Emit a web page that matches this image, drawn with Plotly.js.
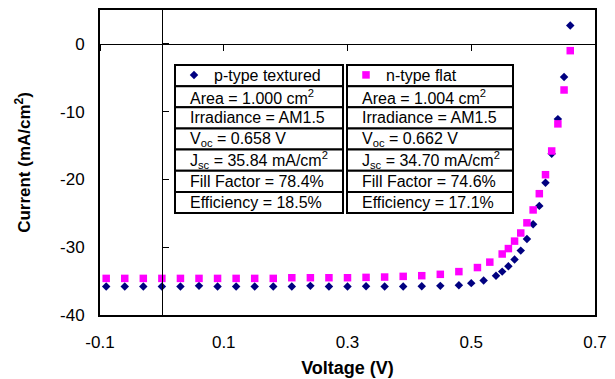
<!DOCTYPE html>
<html>
<head>
<meta charset="utf-8">
<script src="https://cdn.plot.ly/plotly-3.0.1.min.js"></script>
<style>html,body{margin:0;padding:0;background:#fff;}#chart{width:615px;height:379px;}</style>
</head>
<body>
<div id="chart"></div>
<script>
// Voltage (V) and current density (mA/cm^2)
const pTypeVoltage = [-0.09,-0.06,-0.03,0,0.03,0.06,0.09,0.12,0.15,0.18,0.21,0.24,0.27,0.30,0.33,0.36,0.39,0.42,0.45,
  0.48,0.50,0.52,0.54,0.55,0.56,0.57,0.58,0.59,0.60,0.61,0.62,0.63,0.64,0.65,0.66];
const pTypeCurrent = [-35.8,-35.8,-35.8,-35.8,-35.8,-35.7,-35.8,-35.8,-35.8,-35.8,-35.8,-35.7,-35.8,-35.8,-35.75,-35.8,-35.8,-35.75,-35.7,
  -35.6,-35.3,-34.9,-34.2,-33.6,-32.8,-31.8,-30.5,-28.8,-26.6,-23.9,-20.5,-16.2,-11.1,-4.9,2.7];

const nTypeVoltage = [-0.09,-0.06,-0.03,0,0.03,0.06,0.09,0.12,0.15,0.18,0.21,0.24,0.27,0.30,0.33,0.36,0.39,0.42,0.45,
  0.48,0.51,0.53,0.55,0.56,0.57,0.58,0.59,0.60,0.61,0.62,0.63,0.64,0.65,0.66];
const nTypeCurrent = [-34.6,-34.6,-34.6,-34.6,-34.6,-34.6,-34.6,-34.6,-34.6,-34.6,-34.5,-34.5,-34.5,-34.5,-34.45,-34.4,-34.3,-34.2,-34.0,
  -33.6,-33.0,-32.2,-31.0,-30.2,-29.1,-27.9,-26.4,-24.5,-22.1,-19.3,-15.8,-11.8,-6.8,-1.0];

const seriesNames = ["p-type textured", "n-type flat"];
const pTypeTable = ["Area = 1.000 cm<sup>2</sup>", "Irradiance = AM1.5", "V<sub>oc</sub> = 0.658 V",
  "J<sub>sc</sub> = 35.84 mA/cm<sup>2</sup>", "Fill Factor = 78.4%", "Efficiency = 18.5%"];
const nTypeTable = ["Area = 1.004 cm<sup>2</sup>", "Irradiance = AM1.5", "V<sub>oc</sub> = 0.662 V",
  "J<sub>sc</sub> = 34.70 mA/cm<sup>2</sup>", "Fill Factor = 74.6%", "Efficiency = 17.1%"];

const xTickVals = [-0.1, 0.1, 0.3, 0.5, 0.7];
const xTickText = ["-0.1", "0.1", "0.3", "0.5", "0.7"];
const yTickVals = [-40, -30, -20, -10, 0];
const yTickText = ["-40", "-30", "-20", "-10", "0"];

// ---- layout geometry ----
const W = 615, H = 379;
const M = {l: 100, r: 20, t: 10, b: 64};
const PW = W - M.l - M.r, PH = H - M.t - M.b;
const xRange = [-0.1, 0.7], yRange = [-40, 5];
const px2x = p => (p - M.l) / PW;
const px2y = p => (H - M.b - p) / PH;

const FONT = "Arial, 'Liberation Sans', sans-serif";

const traces = [
  {x: pTypeVoltage, y: pTypeCurrent, name: seriesNames[0], type: "scatter", mode: "markers",
   marker: {symbol: "diamond", size: 6.5, color: "#000080"}},
  {x: nTypeVoltage, y: nTypeCurrent, name: seriesNames[1], type: "scatter", mode: "markers",
   marker: {symbol: "square", size: 7.5, color: "#FF00FF"}},
  // empty trace so the zero-crossing axes get drawn
  {x: [], y: [], xaxis: "x2", yaxis: "y2", type: "scatter", mode: "markers",
   showlegend: false, hoverinfo: "skip"}
];

// table cells
const shapes = [];
const annotations = [];
const cols = [{l: 175, r: 343}, {l: 347, r: 513}];
const rowTop = 65, rowH = 21.15;
for (let c = 0; c < 2; c++) {
  for (let r = 0; r < 7; r++) {
    const y0 = rowTop + r * rowH, y1 = y0 + rowH;
    shapes.push({type: "rect", xref: "paper", yref: "paper",
      x0: px2x(cols[c].l), x1: px2x(cols[c].r), y0: px2y(y1), y1: px2y(y0),
      line: {color: "#000", width: 2}, fillcolor: "#fff", layer: "above"});
    if (r > 0) {
      const txt = (c === 0 ? pTypeTable : nTypeTable)[r - 1];
      annotations.push({xref: "paper", yref: "paper", x: px2x(cols[c].l + 13), y: px2y((y0 + y1) / 2),
        xanchor: "left", yanchor: "middle", showarrow: false, text: txt, align: "left",
        font: {family: FONT, size: 16, color: "#000"}});
    }
  }
}

const layout = {
  width: W, height: H,
  margin: M,
  paper_bgcolor: "#fff", plot_bgcolor: "#fff",
  font: {family: FONT, size: 16, color: "#000"},
  showlegend: true,
  legend: {orientation: "h", x: px2x(174), y: px2y(58), xanchor: "left", yanchor: "top",
    bgcolor: "rgba(0,0,0,0)", borderwidth: 0, entrywidth: 127, entrywidthmode: "pixels",
    font: {family: FONT, size: 16, color: "#000"}, itemwidth: 30},
  xaxis: {range: xRange, tickvals: xTickVals, ticktext: xTickText, ticks: "", showgrid: false, zeroline: false,
    showline: true, mirror: true, linecolor: "#000", linewidth: 2, ticklabelstandoff: 11,
    tickfont: {family: FONT, size: 17},
    title: {text: "Voltage (V)", font: {family: FONT, size: 18, weight: "bold"}, standoff: 10}},
  yaxis: {range: yRange, tickvals: yTickVals, ticktext: yTickText, ticks: "", showgrid: false, zeroline: false,
    showline: true, mirror: true, linecolor: "#000", linewidth: 2, ticklabelstandoff: 10,
    tickfont: {family: FONT, size: 17},
    title: {text: "Current (mA/cm<sup>2</sup>)", font: {family: FONT, size: 17, weight: "bold"}, standoff: 25}},
  // axes crossing at zero (Excel style)
  xaxis2: {overlaying: "x", range: xRange, tickvals: xTickVals, anchor: "free",
    position: (0 - yRange[0]) / (yRange[1] - yRange[0]), side: "bottom",
    ticks: "outside", ticklen: 6, tickwidth: 1, tickcolor: "#000", showticklabels: false,
    showline: true, linecolor: "#000", linewidth: 1, showgrid: false, zeroline: false},
  yaxis2: {overlaying: "y", range: yRange, tickvals: yTickVals, anchor: "free",
    position: (0 - xRange[0]) / (xRange[1] - xRange[0]), side: "right",
    ticks: "outside", ticklen: 6, tickwidth: 1, tickcolor: "#000", showticklabels: false,
    showline: true, linecolor: "#000", linewidth: 1, showgrid: false, zeroline: false},
  shapes: shapes,
  annotations: annotations
};

Plotly.newPlot("chart", traces, layout, {displayModeBar: false, staticPlot: true});
</script>
</body>
</html>
